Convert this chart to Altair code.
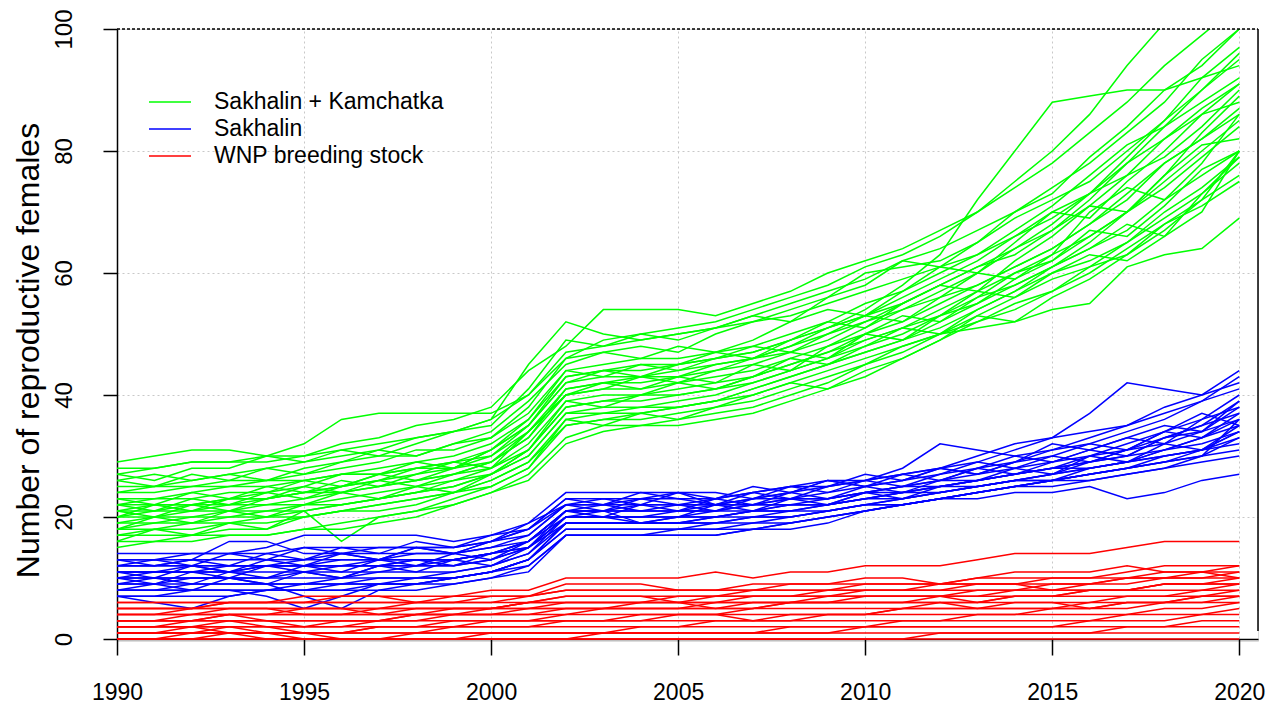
import altair as alt
import pandas as pd

years = list(range(1990, 2021))
group_names = ["Sakhalin + Kamchatka", "Sakhalin", "WNP breeding stock"]
group_colors = ["#00ff00", "#0000ff", "#ff0000"]
x_ticks = [1990, 1995, 2000, 2005, 2010, 2015, 2020]
y_ticks = [0, 20, 40, 60, 80, 100]

green_runs = [
    [29,30,31,31,30,32,36,37,37,37,37,40,46,49,50,51,52,54,56,58,61,63,66,70,74,78,83,88,94,99,104],
    [27,28,29,29,30,30,32,33,35,36,38,44,48,54,54,54,53,55,57,60,62,64,67,70,75,80,86,94,101,106,110],
    [26,27,26,27,28,29,30,31,33,34,36,45,52,50,49,50,51,53,55,57,59,62,64,67,70,74,78,83,88,95,100],
    [25,25,26,27,26,28,29,30,30,32,33,38,46,47,48,47,50,52,54,56,60,61,62,65,69,72,75,80,85,90,95],
    [24,25,25,26,26,27,28,29,31,31,33,37,44,45,46,46,47,48,50,52,55,57,60,63,67,71,76,81,84,88,92],
    [23,23,24,25,25,26,27,28,29,30,32,36,43,44,44,45,46,47,49,51,53,56,59,62,66,70,73,76,79,84,90],
    [22,23,23,24,24,25,27,27,28,29,31,35,42,43,43,44,45,46,48,50,52,55,58,61,63,67,72,78,82,86,88],
    [22,22,22,23,23,24,25,26,28,29,30,34,41,42,43,43,44,46,48,51,54,58,63,72,80,88,89,90,90,92,94],
    [21,21,22,22,23,24,24,25,26,27,29,33,40,41,41,42,43,44,46,48,51,54,57,60,64,67,71,76,82,87,91],
    [20,21,21,22,22,23,24,25,26,27,28,32,39,40,40,41,42,43,45,47,50,52,55,58,61,64,68,72,78,82,87],
    [20,20,21,21,22,22,23,24,25,26,28,31,38,39,39,40,41,43,45,47,49,51,54,57,60,63,66,70,75,80,85],
    [19,20,20,21,21,22,22,23,24,25,27,30,37,38,38,39,40,42,44,46,48,50,53,56,58,61,65,70,76,81,82],
    [18,19,19,20,20,21,22,23,24,25,27,30,37,37,38,38,39,41,43,45,47,49,52,55,58,61,64,67,72,76,80],
    [18,18,19,19,20,20,21,22,23,24,26,29,36,37,37,38,39,41,43,45,47,49,51,54,57,60,62,65,69,73,79],
    [17,18,18,19,19,20,21,22,23,24,26,29,35,36,37,38,39,40,42,44,46,48,50,53,56,59,61,63,67,72,80],
    [17,17,17,18,18,21,16,20,21,23,25,28,35,36,36,37,38,39,41,43,45,47,50,52,55,57,60,64,68,72,76],
    [16,16,17,17,17,18,19,20,21,22,24,27,33,35,35,36,37,38,40,42,45,48,50,51,52,54,55,61,63,64,69],
    [15,16,16,17,17,18,18,19,20,22,24,26,32,34,35,35,36,37,39,41,43,46,49,52,54,57,61,65,70,74,79],
    [24,24,25,25,26,26,27,27,28,28,30,35,43,44,45,45,46,47,49,51,53,55,58,61,64,68,73,79,85,92,97],
    [21,22,22,23,23,24,25,26,27,28,29,33,41,42,42,43,45,46,47,49,52,54,56,58,61,64,68,73,78,82,86],
    [28,28,29,29,29,30,31,32,33,34,36,40,47,48,49,50,51,52,53,55,57,59,61,63,66,69,73,78,84,90,96],
    [19,19,20,20,21,21,22,23,24,26,27,31,38,39,40,40,41,42,44,46,49,51,53,55,59,62,66,70,74,79,84],
    [23,22,24,23,25,24,26,25,27,29,28,34,40,41,43,42,44,45,47,46,50,53,52,56,60,62,67,66,71,77,80],
    [20,22,21,23,24,23,25,27,26,28,31,36,44,43,45,44,46,48,47,50,53,52,56,60,59,63,70,74,72,78,86],
    [26,25,27,26,28,27,29,31,30,32,34,39,45,47,46,48,47,49,52,54,53,57,61,60,65,70,69,75,80,86,91],
    [18,20,19,21,20,22,24,23,25,24,27,31,39,38,40,42,41,43,46,45,48,51,50,54,57,61,64,68,66,73,78],
    [22,21,23,22,24,26,25,27,29,28,31,35,42,44,43,45,47,46,49,52,51,55,58,57,62,66,71,70,76,83,89],
    [16,18,17,19,18,20,21,21,22,24,25,28,36,35,37,36,38,40,42,41,44,46,49,53,52,56,59,63,68,71,75],
    [27,26,28,28,30,29,31,30,32,34,35,41,49,48,50,49,51,53,52,56,58,62,61,65,70,73,79,84,90,94,100],
    [21,20,22,21,23,25,24,26,25,27,29,34,40,42,41,43,42,45,44,48,50,49,53,57,56,60,63,62,66,70,80],
]

blue_runs = [
    [13,13,14,14,14,15,15,15,15,15,16,18,23,23,23,23,23,24,25,26,26,27,28,29,31,33,37,42,41,40,44],
    [14,14,14,14,15,17,17,17,17,16,17,19,24,24,24,24,24,23,24,25,26,27,28,30,32,33,34,35,38,40,42],
    [12,12,13,16,16,14,14,15,15,15,16,17,22,22,22,22,23,24,25,25,26,28,32,31,30,31,32,34,36,39,43],
    [11,11,12,12,12,13,13,13,14,14,15,17,22,22,21,21,22,23,23,24,25,26,27,28,29,31,33,35,37,39,41],
    [10,11,11,11,12,12,12,13,13,13,14,16,21,21,21,22,22,22,23,23,24,25,26,27,28,29,30,32,34,36,40],
    [9,9,10,10,10,11,11,11,12,12,13,15,20,20,20,20,21,21,22,22,23,24,25,26,27,28,29,31,33,35,39],
    [12,12,12,11,11,11,12,12,13,13,14,16,20,20,19,19,20,21,21,22,24,25,25,26,27,28,30,31,32,34,38],
    [8,8,9,9,9,9,10,10,10,11,12,14,19,19,19,19,19,20,20,21,22,23,24,25,26,27,28,29,31,33,37],
    [10,10,10,10,10,10,10,11,11,11,12,14,20,20,20,21,21,22,22,22,23,24,25,25,26,27,29,30,33,34,36],
    [7,7,8,8,8,8,8,9,9,10,11,13,18,18,18,18,18,19,19,20,21,22,23,24,25,26,27,28,30,31,35],
    [7,6,5,7,8,9,9,9,10,10,11,13,19,19,19,20,20,20,21,21,22,23,24,25,26,26,28,29,31,33,35],
    [8,8,8,8,7,5,7,9,9,10,11,13,18,18,18,18,19,19,20,21,22,22,23,24,25,26,27,28,29,31,34],
    [11,11,11,11,12,12,12,12,12,12,13,15,21,21,22,22,22,22,23,23,24,25,26,26,27,28,29,30,31,32,34],
    [7,7,7,7,8,8,8,8,8,9,10,12,17,17,17,17,17,18,18,19,21,22,23,24,25,26,27,28,29,30,33],
    [13,13,13,13,13,13,14,14,14,14,15,16,21,21,21,21,21,22,22,23,24,24,25,26,27,28,28,29,30,31,33],
    [10,10,10,10,9,7,5,8,9,10,11,12,17,17,17,17,17,18,19,20,21,22,23,23,24,24,25,23,24,26,27],
    [9,9,9,9,9,9,9,10,10,10,11,13,19,19,19,19,20,21,21,22,23,24,24,25,26,27,28,29,30,31,32],
    [11,11,11,12,12,12,13,13,13,13,14,15,20,20,20,20,20,21,22,22,23,23,24,25,26,26,27,28,29,30,31],
    [12,12,12,12,12,12,12,12,12,13,14,15,19,19,19,19,19,20,20,21,22,22,23,24,25,25,26,27,28,29,30],
    [8,8,8,8,8,8,9,9,9,9,10,11,17,17,17,18,18,18,19,20,21,22,23,24,25,26,26,27,28,30,36],
    [9,10,9,11,10,12,11,13,12,14,13,16,21,20,22,21,23,22,24,23,25,24,26,28,27,29,31,30,33,35,37],
    [11,10,12,11,13,12,14,13,15,14,16,18,23,22,24,23,22,24,23,25,27,26,28,27,29,32,31,33,35,34,39],
    [8,9,8,10,9,11,10,12,11,13,12,15,20,21,19,20,22,21,23,22,24,23,25,26,28,27,30,29,32,31,34],
    [12,13,12,14,13,15,14,13,15,14,16,19,22,23,22,24,23,25,24,26,25,27,26,28,30,29,31,33,32,36,38],
    [10,9,11,10,12,11,10,12,13,12,14,16,21,22,23,22,21,23,25,24,26,25,27,29,28,30,29,31,34,33,36],
    [13,12,13,12,14,13,15,14,16,15,17,18,22,21,23,24,22,23,24,26,25,26,28,27,29,30,32,31,34,37,35],
]

red_runs = [
    [6,6,6,6,6,7,7,7,7,7,8,8,10,10,10,10,11,10,11,11,12,12,12,13,14,14,14,15,16,16,16],
    [5,5,5,6,6,6,6,6,6,7,7,7,8,8,8,8,8,8,9,9,9,9,9,10,10,10,10,11,12,12,12],
    [6,6,6,6,6,6,6,6,6,6,6,7,8,8,8,8,8,8,8,8,9,9,9,9,9,10,10,10,11,11,11],
    [4,4,5,5,5,5,5,5,6,6,6,6,7,7,7,7,7,8,8,8,8,8,8,9,9,9,9,10,10,10,11],
    [3,3,3,4,4,4,4,5,5,5,5,6,6,6,6,6,7,7,7,7,8,8,8,8,8,9,9,9,10,10,10],
    [5,5,5,5,5,4,4,4,5,5,5,5,6,6,6,6,6,6,6,7,7,7,7,8,8,8,8,8,9,9,9],
    [2,2,2,3,3,3,3,3,4,4,4,5,5,5,5,5,6,6,6,6,6,6,7,7,7,7,8,8,8,8,9],
    [4,4,4,4,3,3,3,3,4,4,4,4,4,5,5,5,5,5,6,6,6,6,6,6,7,7,7,7,7,8,8],
    [1,1,2,2,2,2,2,3,3,3,3,3,4,4,4,4,4,5,5,5,5,5,6,6,6,6,6,7,7,7,8],
    [3,3,3,3,3,2,2,2,2,3,3,3,3,3,3,4,4,4,4,4,4,5,5,5,5,5,5,6,6,7,7],
    [2,2,2,2,1,1,1,2,2,2,2,2,3,3,3,3,3,3,4,4,4,4,4,4,4,5,5,5,6,6,6],
    [0,0,1,1,1,1,1,1,1,2,2,2,2,2,2,2,3,3,3,3,3,3,3,4,4,4,4,4,5,5,6],
    [1,1,1,1,1,0,0,0,1,1,1,1,1,1,2,2,2,2,2,2,2,3,3,3,3,3,3,4,4,4,5],
    [0,0,0,0,0,0,0,0,0,0,1,1,1,1,1,1,1,1,2,2,2,2,2,2,2,2,3,3,3,4,4],
    [2,2,2,1,1,1,1,1,1,1,1,1,1,1,1,1,1,1,1,1,2,2,2,2,2,2,2,2,2,3,3],
    [1,1,1,1,0,0,0,0,0,0,0,0,0,1,1,1,1,1,1,1,1,1,1,1,1,1,1,2,2,2,2],
    [0,0,0,0,0,0,0,0,0,0,0,0,0,0,0,0,0,0,0,0,0,0,1,1,1,1,1,1,1,1,1],
    [3,3,4,4,4,4,4,4,4,4,5,5,5,5,5,5,5,6,6,6,6,6,6,5,5,5,6,6,6,6,7],
    [4,4,4,5,5,5,5,5,5,5,5,6,6,6,6,7,7,7,7,7,7,7,7,7,8,8,8,8,9,9,10],
    [0,0,0,1,1,1,0,0,0,0,0,0,0,0,0,0,0,0,0,0,0,0,0,0,0,0,0,0,0,0,0],
    [5,5,5,6,6,6,7,7,6,6,7,7,9,9,9,8,8,9,9,9,10,10,9,10,11,11,11,12,11,11,12],
    [2,2,3,3,2,2,3,3,3,4,4,4,5,5,6,6,5,5,6,6,7,7,7,6,7,7,8,8,9,9,9],
    [1,1,1,2,2,1,1,2,2,2,3,3,3,3,4,4,4,3,3,4,4,5,5,5,6,6,5,6,6,7,7],
    [3,3,3,4,4,5,5,4,4,5,5,6,7,7,7,6,6,7,7,8,8,8,9,9,9,8,9,10,10,11,10],
]


def to_long(runs, name):
    rows = []
    for i, run in enumerate(runs):
        for yr, v in zip(years, run):
            rows.append({"year": yr, "value": v, "run": f"{name}-{i}", "group": name})
    return pd.DataFrame(rows)


FONT = "Liberation Sans"
W, H = 1141, 612

color = alt.Color(
    "group:N",
    scale=alt.Scale(domain=group_names, range=group_colors),
    legend=alt.Legend(
        title=None, orient="none", legendX=38, legendY=58,
        symbolType="M-1.5,0H1.5", symbolSize=784, symbolStrokeWidth=1.5,
        labelFontSize=23, labelOffset=29, padding=0, rowPadding=0,
        labelFont=FONT, labelColor="black", labelLimit=600,
    ),
)

x = alt.X(
    "year:Q",
    scale=alt.Scale(domain=[1990, 2020.5], nice=False, zero=False),
    axis=alt.Axis(
        values=x_ticks, format="d", title=None, labelFontSize=23, labelPadding=26,
        labelFont=FONT, labelColor="black", tickSize=16, tickColor="black",
        tickWidth=1.5, domainColor="black", domainWidth=1.5, offset=-2,
        labelFlush=False, grid=True, gridColor="#c8c8c8", gridDash=[2, 3],
    ),
)

y = alt.Y(
    "value:Q",
    scale=alt.Scale(domain=[0, 100], range=[610, 0], nice=False, zero=False),
    axis=alt.Axis(
        values=y_ticks, title="Number of reproductive females",
        titleFontSize=32, titleFontWeight="normal", titleColor="black", titleFont=FONT,
        titleAngle=270, titleAlign="center", titleBaseline="alphabetic",
        titleX=-79, titleY=321,
        labelAngle=270, labelAlign="center", labelBaseline="bottom",
        labelFontSize=24, labelPadding=27, labelFont=FONT, labelColor="black",
        tickSize=14, tickColor="black", tickWidth=1.5, domainColor="black",
        domainWidth=1.5, labelFlush=False,
        grid=True, gridColor="#c8c8c8", gridDash=[2, 3],
    ),
)


def layer(runs, name):
    return alt.Chart(to_long(runs, name)).mark_line(clip=True, strokeWidth=1.5).encode(
        x=x, y=y, color=color, detail="run:N", order="year:Q"
    )


frame_df = pd.DataFrame({"k": [0]})
frame_right = alt.Chart(frame_df).mark_rule(color="black", strokeWidth=1.5).encode(
    x=alt.value(W), y=alt.value(0), y2=alt.value(602)
)
frame_top = alt.Chart(frame_df).mark_rule(color="black", strokeWidth=1.6, strokeDash=[3, 2]).encode(
    x=alt.value(0), x2=alt.value(W), y=alt.value(0)
)

chart = alt.layer(
    layer(green_runs, group_names[0]),
    layer(blue_runs, group_names[1]),
    layer(red_runs, group_names[2]),
    frame_right,
    frame_top,
).properties(
    width=W, height=H,
    padding={"left": 117, "top": 29, "right": 21, "bottom": 75},
    autosize=alt.AutoSizeParams(type="none"),
    background="white",
).configure_view(
    stroke=None
).configure(font=FONT)

chart.save("out.html", embed_options={"renderer": "svg", "actions": False})
